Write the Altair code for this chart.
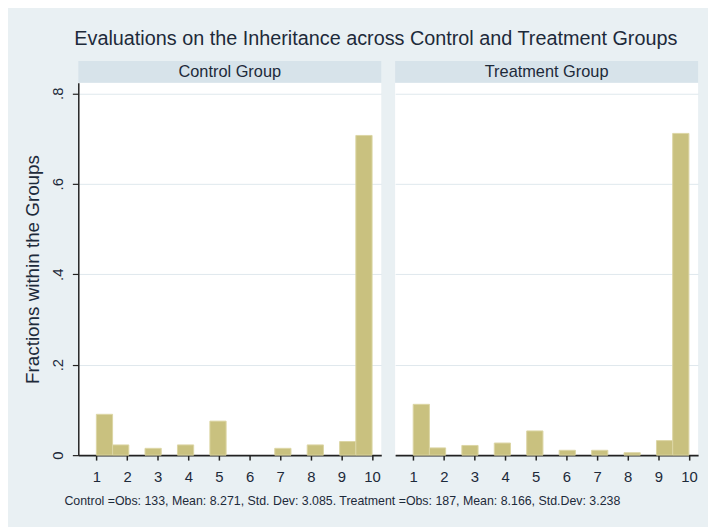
import altair as alt
import pandas as pd

# ---- data ----
scores = [1, 2, 3, 4, 5, 6, 7, 8, 9, 10]
control_counts = [12, 3, 2, 3, 10, 0, 2, 3, 4, 94]      # n = 133
treatment_counts = [21, 3, 4, 5, 10, 2, 2, 1, 6, 133]  # n = 187
group_names = ["Control Group", "Treatment Group"]
n_bins = 17
y_ticks = [0, 0.2, 0.4, 0.6, 0.8]
x_ticks = scores
main_title = "Evaluations on the Inheritance across Control and Treatment Groups"
y_title = "Fractions within the Groups"
note_text = ("Control =Obs: 133, Mean: 8.271, Std. Dev: 3.085. "
             "Treatment =Obs: 187, Mean: 8.166, Std.Dev: 3.238")

# ---- styling ----
FONT = "Liberation Sans"
BG = "#e9f0f3"
STRIP = "#d7e3ea"
BAR = "#c9c17f"
BAR_EDGE = "#dcd6a4"
GRID = "#dfe8ed"
TXT = "#1d2a3a"
W, H = 306, 376
X_DOMAIN = [0.41, 10.3]
Y_DOMAIN = [0, 0.823]


def make_df(counts):
    lo, hi = min(scores), max(scores)
    w = (hi - lo) / n_bins
    n = sum(counts)
    rows = []
    for s, c in zip(scores, counts):
        k = min(int((s - lo) / w + 1e-9), n_bins - 1)
        rows.append({"score": s, "start": lo + k * w, "end": lo + (k + 1) * w,
                     "frac": c / n})
    return pd.DataFrame(rows)


def panel(counts, name, show_y):
    df = make_df(counts)
    if show_y:
        yaxis = alt.Axis(values=y_ticks, grid=True, gridColor=GRID, gridWidth=1,
                         domain=True, domainColor="#222222", domainWidth=1.5,
                         ticks=True, tickColor="#222222", tickSize=6, tickWidth=1.2,
                         labelAngle=270, labelAlign="center", labelBaseline="bottom",
                         labelPadding=7, labelFont=FONT, labelFontSize=15,
                         labelColor=TXT,
                         labelExpr="datum.value == 0 ? '0' : replace(format(datum.value, '.1f'), '0.', '.')",
                         title=y_title, titleFont=FONT, titleFontSize=19,
                         titleFontWeight="normal", titleColor=TXT, titlePadding=8)
    else:
        yaxis = alt.Axis(values=y_ticks, grid=True, gridColor=GRID, gridWidth=1,
                         domain=False, ticks=False, labels=False, title=None)
    xaxis = alt.Axis(values=x_ticks, format="d", grid=False,
                     domain=True, domainColor="#222222", domainWidth=2,
                     ticks=True, tickColor="#222222", tickSize=5, tickWidth=1.5,
                     labelFont=FONT, labelFontSize=15, labelColor=TXT,
                     labelPadding=10, title=None)
    bars = alt.Chart(df).transform_filter("datum.frac > 0").mark_rect(
        color=BAR, stroke=BAR_EDGE, strokeWidth=1).encode(
        x=alt.X("start:Q", scale=alt.Scale(domain=X_DOMAIN, nice=False, zero=False),
                axis=xaxis),
        x2="end:Q",
        y=alt.Y("frac:Q", scale=alt.Scale(domain=Y_DOMAIN, nice=False), axis=yaxis),
        y2=alt.datum(0),
    )
    hdr = pd.DataFrame({"label": [name]})
    strip = alt.Chart(hdr).mark_rect(color=STRIP).encode(
        x=alt.value(0), x2=alt.value(W), y=alt.value(-22), y2=alt.value(0))
    label = alt.Chart(hdr).mark_text(font=FONT, fontSize=16.5, color=TXT,
                                      baseline="middle").encode(
        x=alt.value(W / 2), y=alt.value(-11), text="label:N")
    return alt.layer(bars, strip, label).properties(
        width=W, height=H, view=alt.ViewBackground(fill="white", stroke=None))


left = panel(control_counts, group_names[0], True)
right = panel(treatment_counts, group_names[1], False)

note = alt.Chart(pd.DataFrame({"note": [note_text]})).mark_text(
    font=FONT, fontSize=12.5, color=TXT, align="left", baseline="middle").encode(
    x=alt.value(-14), y=alt.value(6), text="note:N").properties(width=40, height=12)

chart = alt.vconcat(alt.hconcat(left, right, spacing=14), note, spacing=10).properties(
    title=alt.TitleParams(main_title, font=FONT, fontSize=20, fontWeight="normal",
                          color=TXT, anchor="middle", offset=12, dx=15),
    background=BG,
    padding={"left": 16, "top": 19, "right": 10, "bottom": 20},
).configure_view(stroke=None, fill=None)

chart.save("out.html", embed_options={"renderer": "svg", "actions": False})
